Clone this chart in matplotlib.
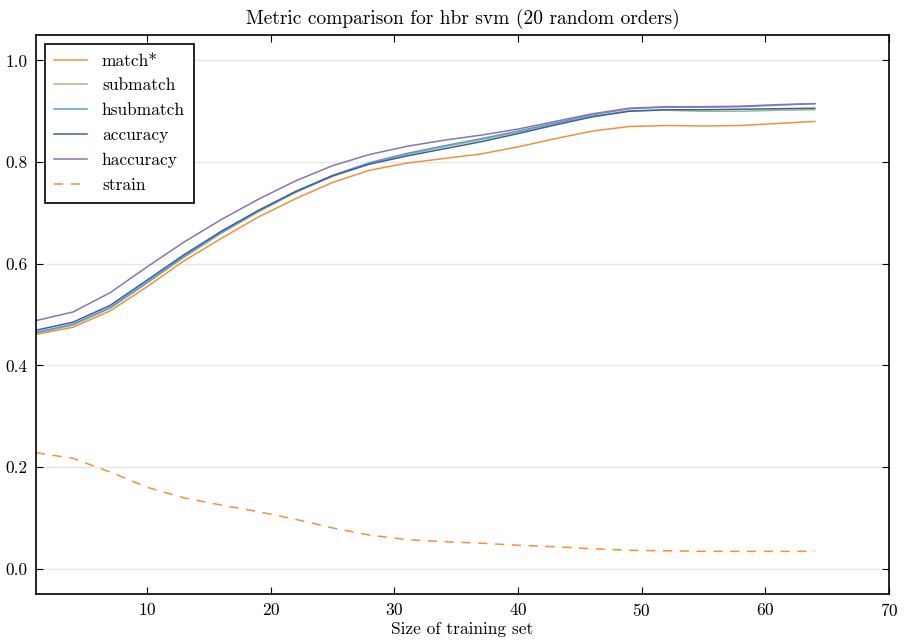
import matplotlib
matplotlib.use("Agg")
import matplotlib.pyplot as plt

# Data
sizes = [1, 4, 7, 10, 13, 16, 19, 22, 25, 28, 31, 34, 37, 40, 43, 46, 49, 52, 55, 58, 61, 64]
match_star = [0.461, 0.475, 0.507, 0.555, 0.606, 0.650, 0.692, 0.728, 0.760, 0.784, 0.798,
              0.807, 0.816, 0.830, 0.846, 0.861, 0.870, 0.872, 0.871, 0.872, 0.876, 0.880]
submatch = [0.463, 0.479, 0.512, 0.562, 0.613, 0.660, 0.702, 0.740, 0.772, 0.797, 0.815,
            0.830, 0.844, 0.859, 0.875, 0.890, 0.901, 0.902, 0.900, 0.900, 0.902, 0.903]
hsubmatch = [0.465, 0.481, 0.514, 0.564, 0.615, 0.662, 0.704, 0.742, 0.774, 0.799, 0.817,
             0.832, 0.846, 0.861, 0.877, 0.893, 0.905, 0.908, 0.908, 0.909, 0.912, 0.915]
accuracy = [0.469, 0.485, 0.518, 0.568, 0.618, 0.664, 0.705, 0.742, 0.773, 0.796, 0.812,
            0.826, 0.840, 0.856, 0.873, 0.889, 0.900, 0.903, 0.903, 0.904, 0.905, 0.906]
haccuracy = [0.488, 0.505, 0.543, 0.594, 0.643, 0.687, 0.727, 0.763, 0.793, 0.815, 0.831,
             0.843, 0.853, 0.865, 0.880, 0.895, 0.906, 0.909, 0.909, 0.910, 0.913, 0.915]
strain = [0.228, 0.217, 0.190, 0.160, 0.139, 0.125, 0.112, 0.097, 0.080, 0.066, 0.057,
          0.053, 0.050, 0.046, 0.043, 0.039, 0.036, 0.035, 0.034, 0.034, 0.034, 0.034]

plt.rcParams["font.family"] = ["cmr10", "DejaVu Serif"]
plt.rcParams["axes.formatter.use_mathtext"] = True
plt.rcParams["mathtext.fontset"] = "cm"


def main():
    fig = plt.figure(figsize=(9.06, 6.44), dpi=100)
    ax = fig.add_axes([0.0397, 0.0776, 0.9415, 0.868])

    ax.plot(sizes, match_star, color="#f0913f", lw=1.1, label="match*")
    ax.plot(sizes, submatch, color="#9dbb7a", lw=1.1, label="submatch")
    ax.plot(sizes, hsubmatch, color="#5b9bd5", lw=1.1, label="hsubmatch")
    ax.plot(sizes, accuracy, color="#3f5fa8", lw=1.1, label="accuracy")
    ax.plot(sizes, haccuracy, color="#8a75ad", lw=1.1, label="haccuracy")
    ax.plot(sizes, strain, color="#f0913f", lw=1.1, ls=(0, (6, 5)), label="strain")

    ax.set_xlim(1, 70)
    ax.set_ylim(-0.05, 1.05)
    ax.set_xticks([10, 20, 30, 40, 50, 60, 70])
    ax.set_yticks([0.0, 0.2, 0.4, 0.6, 0.8, 1.0])
    ax.set_yticklabels(["0.0", "0.2", "0.4", "0.6", "0.8", "1.0"])
    ax.yaxis.grid(True, color="#e8e8e8", lw=1)
    ax.set_axisbelow(True)
    ax.tick_params(direction="in", top=True, right=True, length=5, labelsize=12.5, pad=6)
    for s in ax.spines.values():
        s.set_linewidth(1.2)

    ax.set_xlabel("Size of training set", fontsize=12.5, labelpad=2)
    ax.set_title("Metric comparison for hbr svm (20 random orders)", fontsize=14, pad=8)

    leg = ax.legend(loc="upper left", fontsize=12.5, fancybox=False, framealpha=1,
                    edgecolor="black", borderpad=0.55, handlelength=1.9,
                    handletextpad=0.85, labelspacing=0.55)
    leg.get_frame().set_linewidth(1.2)

    fig.savefig("out.png", dpi=100)


if __name__ == "__main__":
    main()
